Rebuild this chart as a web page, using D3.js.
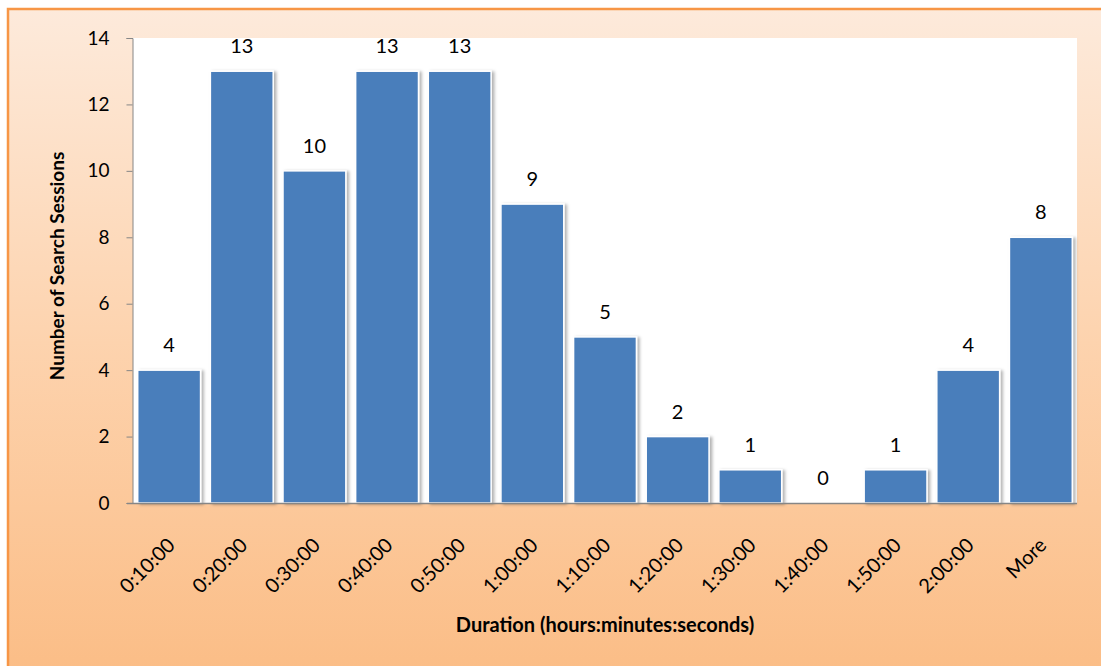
<!DOCTYPE html>
<html>
<head>
<meta charset="utf-8">
<script src="https://cdn.jsdelivr.net/npm/d3@7"></script>
<style>
  html, body { margin: 0; padding: 0; background: #ffffff; }
  svg { display: block; }
</style>
</head>
<body>
<svg id="chart" width="1101" height="666"></svg>
<script>
const categories = ["0:10:00","0:20:00","0:30:00","0:40:00","0:50:00","1:00:00","1:10:00","1:20:00","1:30:00","1:40:00","1:50:00","2:00:00","More"];
const sessions = [4, 13, 10, 13, 13, 9, 5, 2, 1, 0, 1, 4, 8];
const yTicks = [0, 2, 4, 6, 8, 10, 12, 14];
const xTitle = "Duration (hours:minutes:seconds)";
const yTitle = "Number of Search Sessions";

const svg = d3.select("#chart");
const W = 1101, H = 666;
const font = "Lato, 'Open Sans', 'Liberation Sans', sans-serif";

const defs = svg.append("defs");
const grad = defs.append("linearGradient").attr("id", "bg").attr("x1", 0).attr("y1", 0).attr("x2", 0).attr("y2", 1);
grad.append("stop").attr("offset", "0%").attr("stop-color", "#fdeadb");
grad.append("stop").attr("offset", "50%").attr("stop-color", "#fdd3ae");
grad.append("stop").attr("offset", "100%").attr("stop-color", "#fbbd86");

const shadow = defs.append("filter").attr("id", "shadow").attr("x", "-20%").attr("y", "-20%").attr("width", "150%").attr("height", "150%");
shadow.append("feDropShadow").attr("dx", 2.5).attr("dy", 1).attr("stdDeviation", 1.8)
  .attr("flood-color", "#000").attr("flood-opacity", 0.3);

// outer frame
svg.append("rect").attr("x", 8).attr("y", 9).attr("width", W).attr("height", H)
  .attr("fill", "url(#bg)").attr("stroke", "#f79646").attr("stroke-width", 2.5);

const plot = { left: 133, right: 1077, top: 38, bottom: 503 };

svg.append("rect").attr("x", plot.left).attr("y", plot.top)
  .attr("width", plot.right - plot.left).attr("height", plot.bottom - plot.top)
  .attr("fill", "#ffffff");

const x = d3.scaleBand().domain(categories).range([plot.left, plot.right]).paddingInner(0.135).paddingOuter(0.065);
const y = d3.scaleLinear().domain([0, 14]).range([plot.bottom, plot.top]);

// bars
svg.append("g").selectAll("rect").data(categories).join("rect")
  .attr("x", d => x(d))
  .attr("y", (d, i) => y(sessions[i]))
  .attr("width", x.bandwidth())
  .attr("height", (d, i) => y(0) - y(sessions[i]))
  .attr("fill", "#4a7ebb")
  .attr("stroke", "#ffffff")
  .attr("stroke-width", 1.5)
  .attr("filter", "url(#shadow)")
  .style("display", (d, i) => sessions[i] === 0 ? "none" : null);

// data labels
svg.append("g").selectAll("text").data(categories).join("text")
  .attr("x", d => x(d) + x.bandwidth() / 2)
  .attr("y", (d, i) => y(sessions[i]) - 18)
  .attr("text-anchor", "middle")
  .attr("font-family", font)
  .attr("font-size", 20)
  .attr("fill", "#000")
  .text((d, i) => sessions[i]);

// y axis
const yAxis = svg.append("g").attr("transform", `translate(${plot.left - 0.5},0)`)
  .call(d3.axisLeft(y).tickValues(yTicks).tickSize(6).tickPadding(17).tickSizeOuter(6));
yAxis.select(".domain").attr("stroke", "#868686");
yAxis.selectAll(".tick line").attr("stroke", "#868686");
yAxis.selectAll(".tick text").attr("font-family", font).attr("font-size", 19).attr("fill", "#000");

// x axis
const xAxis = svg.append("g").attr("transform", `translate(0,${plot.bottom + 0.5})`)
  .call(d3.axisBottom(x).tickSize(0).tickSizeOuter(0).tickPadding(0));
xAxis.select(".domain").attr("stroke", "#868686").attr("stroke-width", 1.5)
  .attr("d", `M${plot.left - 6},0H${plot.right}`);
xAxis.selectAll(".tick text")
  .attr("font-family", font).attr("font-size", 20).attr("fill", "#000")
  .attr("text-anchor", "end")
  .attr("dy", "0.35em")
  .attr("transform", "translate(2,38) rotate(-45)");

// axis titles
svg.append("text")
  .attr("x", (plot.left + plot.right) / 2).attr("y", 632)
  .attr("text-anchor", "middle")
  .attr("font-family", font).attr("font-weight", "bold").attr("font-size", 20)
  .attr("fill", "#000")
  .text(xTitle);

svg.append("text")
  .attr("transform", "translate(64,266) rotate(-90)")
  .attr("text-anchor", "middle")
  .attr("font-family", font).attr("font-weight", "bold").attr("font-size", 19)
  .attr("fill", "#000")
  .text(yTitle);
</script>
</body>
</html>
